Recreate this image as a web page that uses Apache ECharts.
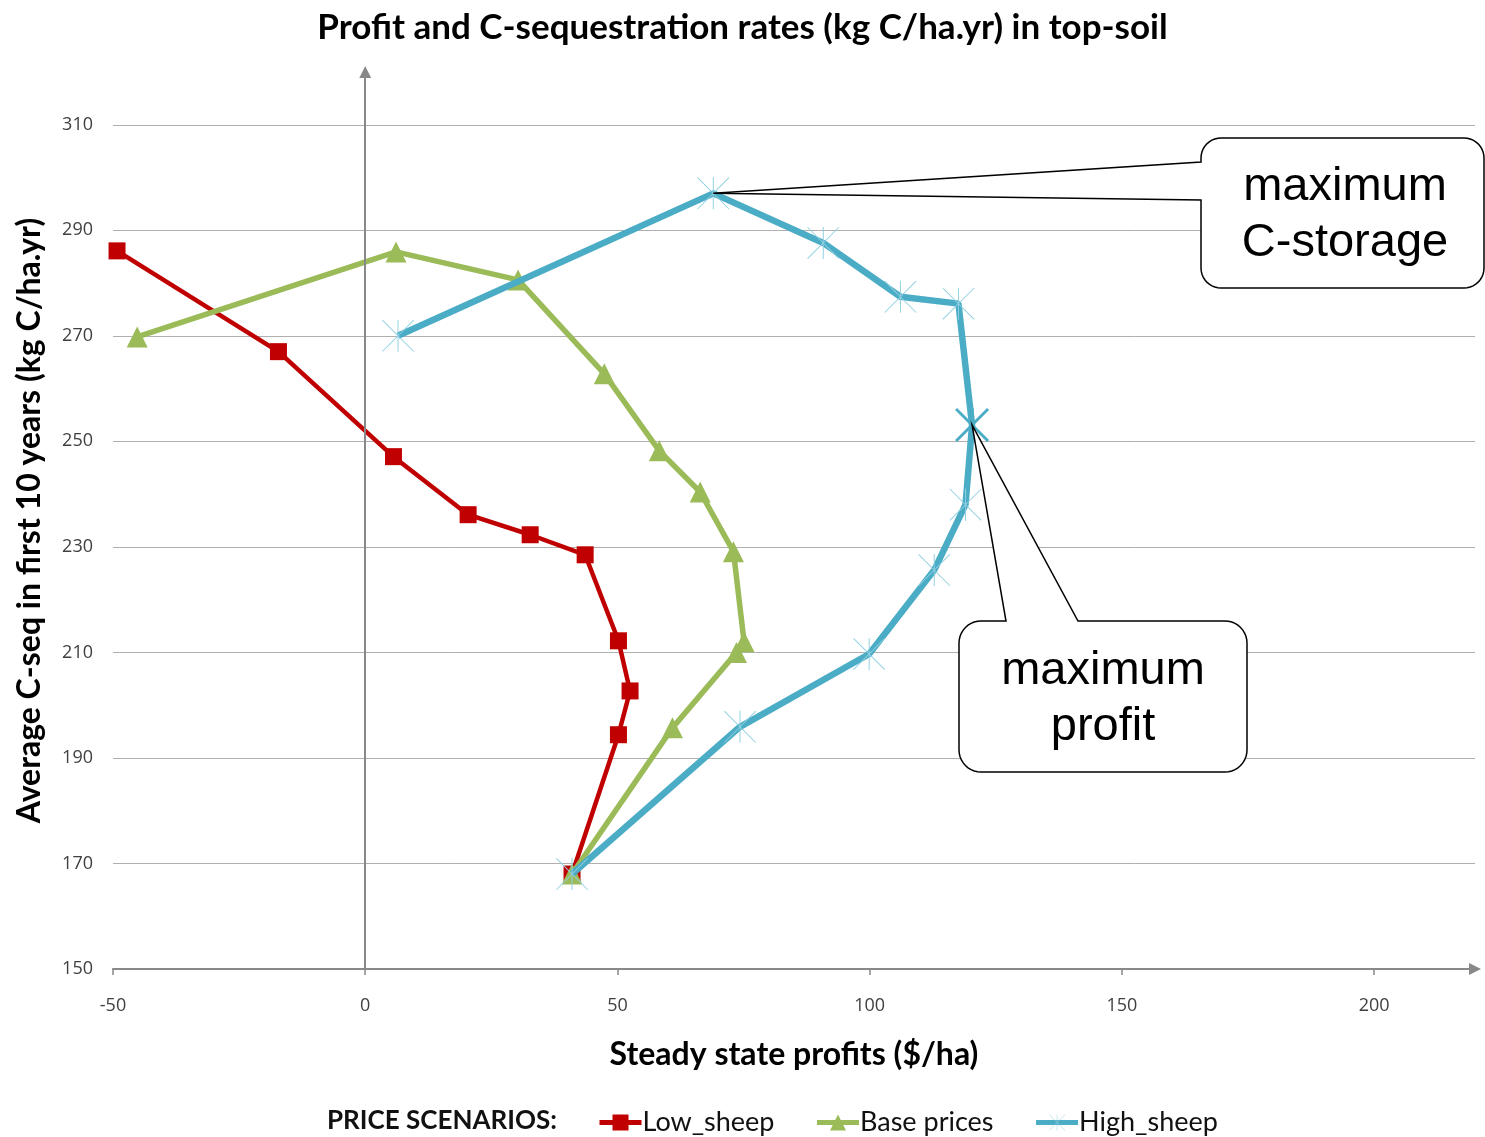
<!DOCTYPE html>
<html>
<head>
<meta charset="utf-8">
<script src="https://cdn.jsdelivr.net/npm/echarts@6/dist/echarts.min.js"></script>
<style>
  html, body { margin: 0; padding: 0; background: #fff; }
  #chart { width: 1485px; height: 1137px; }
</style>
</head>
<body>
<div id="chart"></div>
<script>
// Steady state profit ($/ha) and average C-sequestration (kg C/ha.yr) per scenario
const lowSheepProfit   = [-49.2, -17.2, 5.6, 20.4, 32.7, 43.6, 50.2, 52.5, 50.2, 41.0];
const lowSheepCseq     = [286.1, 267.0, 247.1, 236.1, 232.3, 228.5, 212.2, 202.7, 194.4, 168.0];

const basePricesProfit = [-45.2, 6.1, 30.3, 47.4, 58.3, 66.4, 73.0, 75.1, 73.6, 60.9, 41.0];
const basePricesCseq   = [269.8, 285.9, 280.6, 262.8, 248.2, 240.4, 229.1, 212.0, 210.0, 195.7, 168.0];

const highSheepProfit  = [6.5, 69.0, 90.8, 106.1, 117.6, 120.3, 119.0, 112.8, 99.9, 74.3, 41.0];
const highSheepCseq    = [270.0, 297.0, 287.6, 277.4, 276.1, 253.1, 238.0, 225.6, 209.7, 195.9, 168.0];

const xTicks = [-50, 0, 50, 100, 150, 200];
const yTicks = [150, 170, 190, 210, 230, 250, 270, 290, 310];

// indices of the annotated points on the High_sheep curve
const maxStorageIdx = 1;
const maxProfitIdx = 5;

const zip = (xs, ys) => xs.map((x, i) => [x, ys[i]]);

// asterisk marker (X with a vertical bar), thin and bold variants
const STAR_THIN = 'path://M48.5,0H51.5V100H48.5Z M0,2L2,0L100,98L98,100Z M98,0L100,2L2,100L0,98Z';
const STAR_BOLD = 'path://M45.5,0H54.5V100H45.5Z M0,6L6,0L100,94L94,100Z M94,0L100,6L6,100L0,94Z';

const highData = zip(highSheepProfit, highSheepCseq).map((p, i) => {
  if (i === maxProfitIdx) {
    return { value: p, symbol: STAR_BOLD, symbolSize: 34, itemStyle: { color: '#4BACC6' } };
  }
  return p;
});

const chart = echarts.init(document.getElementById('chart'), null, { renderer: 'canvas' });

const tickFont = { fontFamily: 'Open Sans', fontSize: 18, color: '#404040' };

const option = {
  animation: false,
  backgroundColor: '#ffffff',
  title: {
    text: 'Profit and C-sequestration rates (kg C/ha.yr) in top-soil',
    left: 'center',
    top: 5,
    textStyle: { fontFamily: 'Lato', fontWeight: 'bold', fontSize: 35, color: '#000' }
  },
  grid: { left: 113, right: 10, top: 72, bottom: 168, containLabel: false, outerBoundsMode: 'none' },
  legend: {
    data: ['Low_sheep', 'Base prices', 'High_sheep'],
    left: 592,
    top: 1104,
    itemWidth: 42,
    itemHeight: 20,
    itemGap: 40,
    selectedMode: false,
    lineStyle: { width: 5 },
    textStyle: { fontFamily: 'Lato', fontSize: 27, color: '#111', padding: [0, 0, 0, -4] }
  },
  xAxis: {
    type: 'value',
    min: -50,
    max: 220,
    name: 'Steady state profits ($/ha)',
    nameLocation: 'middle',
    nameGap: 70,
    nameTextStyle: { fontFamily: 'Lato', fontWeight: 'bold', fontSize: 32, color: '#000' },
    axisLine: {
      show: true, onZero: false,
      symbol: ['none', 'triangle'], symbolSize: [12, 12],
      lineStyle: { color: '#888888', width: 2 }
    },
    axisTick: { show: true, customValues: xTicks, length: 6, lineStyle: { color: '#888888', width: 1.5 } },
    axisLabel: Object.assign({ customValues: xTicks, margin: 28 }, tickFont),
    splitLine: { show: false }
  },
  yAxis: {
    type: 'value',
    min: 150,
    max: 320,
    name: 'Average C-seq in first 10 years (kg C/ha.yr)',
    nameLocation: 'middle',
    nameGap: 67,
    nameTextStyle: { fontFamily: 'Lato', fontWeight: 'bold', fontSize: 32, color: '#000' },
    axisLine: { show: false },
    axisTick: { show: false, customValues: yTicks },
    axisLabel: Object.assign({ customValues: yTicks, margin: 20 }, tickFont),
    splitLine: { show: true, lineStyle: { color: '#b0b0b0', width: 1 } }
  },
  series: [
    {
      // vertical value axis through zero profit
      name: 'axis',
      type: 'line',
      data: [],
      z: 1,
      silent: true,
      markLine: {
        silent: true,
        symbol: ['none', 'triangle'],
        symbolSize: [12, 12],
        label: { show: false },
        lineStyle: { color: '#888888', width: 2, type: 'solid' },
        data: [{ xAxis: 0 }]
      }
    },
    {
      name: 'Low_sheep',
      type: 'line',
      data: zip(lowSheepProfit, lowSheepCseq),
      symbol: 'rect',
      symbolSize: 17,
      color: '#C00000',
      lineStyle: { color: '#C00000', width: 4.5 },
      itemStyle: { color: '#C00000' },
      emphasis: { disabled: true },
      z: 2
    },
    {
      name: 'Base prices',
      type: 'line',
      data: zip(basePricesProfit, basePricesCseq),
      symbol: 'triangle',
      symbolSize: 21,
      color: '#9BBB59',
      lineStyle: { color: '#9BBB59', width: 5.5 },
      itemStyle: { color: '#9BBB59' },
      emphasis: { disabled: true },
      z: 3
    },
    {
      name: 'High_sheep',
      type: 'line',
      data: highData,
      symbol: STAR_THIN,
      symbolSize: 32,
      color: '#4BACC6',
      lineStyle: { color: '#4BACC6', width: 6.5 },
      itemStyle: { color: '#8FCFE0' },
      emphasis: { disabled: true },
      z: 4
    }
  ]
};

chart.setOption(option);

// Callout boxes (rounded rectangle with a pointer) aimed at annotated points
function arc(cx, cy, r, a0, a1, pts) {
  const n = 10;
  for (let k = 0; k <= n; k++) {
    const a = (a0 + (a1 - a0) * k / n) * Math.PI / 180;
    pts.push([cx + r * Math.cos(a), cy + r * Math.sin(a)]);
  }
}

function calloutPoints(L, T, R, B, r, wedge) {
  const pts = [];
  arc(L + r, T + r, r, 180, 270, pts);
  if (wedge.side === 'top') {
    pts.push([wedge.a, T], [wedge.ax, wedge.ay], [wedge.b, T]);
  }
  arc(R - r, T + r, r, 270, 360, pts);
  arc(R - r, B - r, r, 0, 90, pts);
  arc(L + r, B - r, r, 90, 180, pts);
  if (wedge.side === 'left') {
    pts.push([L, wedge.b], [wedge.ax, wedge.ay], [L, wedge.a]);
  }
  return pts;
}

const pStore = chart.convertToPixel({ gridIndex: 0 }, [highSheepProfit[maxStorageIdx], highSheepCseq[maxStorageIdx]]);
const pProfit = chart.convertToPixel({ gridIndex: 0 }, [highSheepProfit[maxProfitIdx], highSheepCseq[maxProfitIdx]]);

const calloutFont = '47px "Liberation Sans", Arial, sans-serif';

chart.setOption({
  graphic: [
    {
      type: 'text',
      x: 327,
      y: 1121,
      z: 10,
      style: { text: 'PRICE SCENARIOS:', font: 'bold 26px Lato', fill: '#111', textVerticalAlign: 'middle' }
    },
    {
      type: 'polygon',
      z: 20,
      shape: { points: calloutPoints(1201, 138, 1484, 288, 20, { side: 'left', a: 162, b: 200, ax: pStore[0], ay: pStore[1] }) },
      style: { fill: '#ffffff', stroke: '#000000', lineWidth: 1.5 }
    },
    {
      type: 'text',
      z: 21,
      style: {
        x: 1345, y: 215, text: 'maximum\nC-storage', font: calloutFont, fill: '#000',
        textAlign: 'center', textVerticalAlign: 'middle', lineHeight: 56
      }
    },
    {
      type: 'polygon',
      z: 20,
      shape: { points: calloutPoints(959, 621, 1247, 772, 22, { side: 'top', a: 1006, b: 1078, ax: pProfit[0], ay: pProfit[1] }) },
      style: { fill: '#ffffff', stroke: '#000000', lineWidth: 1.5 }
    },
    {
      type: 'text',
      z: 21,
      style: {
        x: 1103, y: 699, text: 'maximum\nprofit', font: calloutFont, fill: '#000',
        textAlign: 'center', textVerticalAlign: 'middle', lineHeight: 56
      }
    }
  ]
});
</script>
</body>
</html>
